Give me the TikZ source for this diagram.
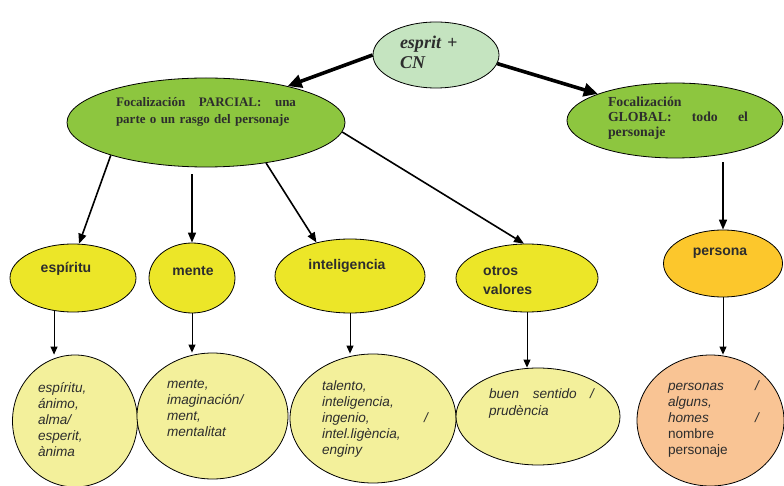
\documentclass[tikz,border=0pt]{standalone}
\usepackage{fontspec}
\setmainfont{Liberation Serif}
\setsansfont{Liberation Sans}
\usepackage{xcolor}
\usepackage{tikz}
\usetikzlibrary{arrows.meta,shapes.geometric}

\definecolor{mintgreen}{RGB}{197,228,192}
\definecolor{leafgreen}{RGB}{141,198,63}
\definecolor{lemon}{RGB}{236,230,40}
\definecolor{amber}{RGB}{252,199,44}
\definecolor{paleyellow}{RGB}{243,240,155}
\definecolor{peach}{RGB}{249,196,148}
\definecolor{inkgray}{RGB}{45,45,45}

\tikzset{
	bubble/.style = {ellipse, draw, line width=0.8pt, inner sep=0pt},
	serif text/.style = {text=inkgray, inner sep=0pt, align=left,
		font=\fontsize{13.8}{17}\selectfont\bfseries},
	head text/.style = {text=inkgray, inner sep=0pt,
		font=\sffamily\bfseries\fontsize{14}{19}\selectfont},
	list text/.style = {text=inkgray, inner sep=0pt, align=left,
		font=\sffamily\fontsize{13.6}{16}\selectfont},
	big arrow/.style = {-{Triangle[length=14pt,width=13pt]}, line width=3.6pt},
	link/.style = {-{Triangle[length=10pt,width=8pt]}, line width=1.6pt},
	drop/.style = {-{Triangle[length=8pt,width=7pt]}, line width=0.9pt}
}

\begin{document}
\begin{tikzpicture}[x=1pt, y=-1pt, auto]
        \useasboundingbox (0,0) rectangle (784,486);

        % Nodes
        \node (esprit) [bubble, fill=mintgreen, minimum width=126pt, minimum height=66pt] at (436,55) {};
        \node (parcial) [bubble, fill=leafgreen, minimum width=278pt, minimum height=89pt] at (206,122.5) {};
        \node (global) [bubble, fill=leafgreen, minimum width=216pt, minimum height=75pt] at (675,120.5) {};

        \node (espiritu) [bubble, fill=lemon, minimum width=126pt, minimum height=68pt] at (73,278) {};
        \node (mente) [bubble, fill=lemon, minimum width=86pt, minimum height=70pt] at (192,278) {};
        \node (intel) [bubble, fill=lemon, minimum width=150pt, minimum height=74pt] at (350,276) {};
        \node (otros) [bubble, fill=lemon, minimum width=142pt, minimum height=68pt] at (527,278) {};
        \node (persona) [bubble, fill=amber, minimum width=119pt, minimum height=67pt] at (723,263.5) {};

        \node (esp_list) [bubble, fill=paleyellow, minimum width=125pt, minimum height=132pt] at (75,421) {};
        \node (mente_list) [bubble, fill=paleyellow, minimum width=151pt, minimum height=126pt] at (212.5,416) {};
        \node (intel_list) [bubble, fill=paleyellow, minimum width=166pt, minimum height=129pt] at (373,418.5) {};
        \node (otros_list) [bubble, fill=paleyellow, minimum width=164pt, minimum height=97pt] at (538,416.5) {};
        \node (persona_list) [bubble, fill=peach, minimum width=147pt, minimum height=131pt] at (710.5,420.5) {};

        % Texts
        \node (esprit_txt) [serif text, text width=62pt, font=\fontsize{18}{20}\selectfont\bfseries\itshape] at (431,52) {esprit +\\CN};
        \node (parcial_txt) [serif text, text width=180pt, font=\fontsize{13}{17}\selectfont\bfseries] at (206,111.5) {Focalización\hfill PARCIAL:\hfill una\\\mbox{parte o un rasgo del personaje}};
        \node (global_txt) [serif text, text width=140pt, font=\fontsize{13.8}{15}\selectfont\bfseries] at (678,118) {Focalización\\GLOBAL:\hfill todo\hfill el\\personaje};

        \node (espiritu_txt) [head text] at (66,269) {espíritu};
        \node (mente_txt) [head text] at (193,271) {mente};
        \node (intel_txt) [head text] at (347,266) {inteligencia};
        \node (otros_txt) [head text, align=left, anchor=west] at (483,280.5) {otros\\valores};
        \node (persona_txt) [head text] at (720,253) {persona};

        \node (esp_words) [list text, text width=70pt] at (73,419.5) {\itshape espíritu,\\ánimo,\\alma/\\esperit,\\ànima};
        \node (mente_words) [list text, text width=90pt] at (212,408.5) {\itshape mente,\\imaginación/\\ment,\\mentalitat};
        \node (intel_words) [list text, text width=106pt] at (375,419) {\itshape talento,\\inteligencia,\\ingenio,\hfill /\\intel.ligència,\\enginy};
        \node (otros_words) [list text, text width=105pt, font=\sffamily\fontsize{13.6}{17}\selectfont] at (541.5,403.5) {\itshape buen\hfill sentido\hfill /\\prudència};
        \node (persona_words) [list text, text width=92pt] at (714,419) {\textit{personas}\hfill\textit{/}\\\textit{alguns,}\\\textit{homes}\hfill\textit{/}\\nombre\\personaje};

        % Arrows
        \draw [big arrow] (esprit.west) to (parcial.24);
        \draw [big arrow] (esprit.352) to (global.161);

        \draw [link] (parcial.199) to (espiritu.80);
        \draw [link, shorten <=7pt] (parcial.south -| mente.north) to (mente.north);
        \draw [link] (parcial.326) to (intel.135);
        \draw [link] (parcial.356) to (otros.95);
        \draw [link, shorten <=4pt] (global.south -| persona.north) to (persona.north);

        \draw [drop] (espiritu.240) to (espiritu.240 |- esp_list.north);
        \draw [drop] (mente.south) to (mente.south |- mente_list.north);
        \draw [drop] (intel.south) to (intel.south |- intel_list.north);
        \draw [drop] (otros.south) to (otros.south |- otros_list.north);
        \draw [drop] (persona.south) to (persona.south |- persona_list.north);
    \end{tikzpicture}
\end{document}
